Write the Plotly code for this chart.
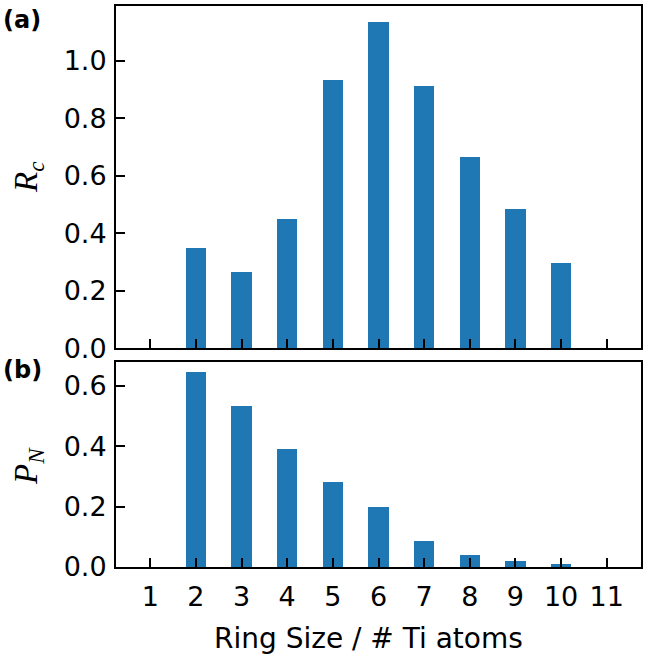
import plotly.graph_objects as go
from plotly.subplots import make_subplots

ring_sizes = [1, 2, 3, 4, 5, 6, 7, 8, 9, 10, 11]
rc_values = [0.0, 0.350, 0.266, 0.451, 0.934, 1.133, 0.912, 0.664, 0.484, 0.295, 0.0]
pn_values = [0.0, 0.645, 0.531, 0.389, 0.282, 0.197, 0.086, 0.038, 0.020, 0.009, 0.0]
rc_ticks = [0.0, 0.2, 0.4, 0.6, 0.8, 1.0]
pn_ticks = [0.0, 0.2, 0.4, 0.6]

W, H = 645, 661
L, R, T, B = 116, 4, 6, 94
ph = H - T - B
pw = W - L - R
ax_bottom = H - B

def py(y):
    return (ax_bottom - y) / ph

def px(x):
    return (x - L) / pw

fig = make_subplots(rows=2, cols=1)
color = "#1f77b4"
fig.add_trace(go.Bar(x=ring_sizes, y=rc_values, width=0.45, marker=dict(color=color, line=dict(width=0)), showlegend=False), row=1, col=1)
fig.add_trace(go.Bar(x=ring_sizes, y=pn_values, width=0.45, marker=dict(color=color, line=dict(width=0)), showlegend=False), row=2, col=1)

font_tick = dict(family="DejaVu Sans", size=27, color="black")
axis_common = dict(showline=True, linecolor="black", linewidth=2, mirror=True,
                   ticks="inside", ticklen=9, tickwidth=2, tickcolor="black",
                   showgrid=False, zeroline=False, tickfont=font_tick)

fig.update_layout(
    width=W, height=H,
    margin=dict(l=L, r=R, t=T, b=B, autoexpand=False),
    plot_bgcolor="white", paper_bgcolor="white",
    bargap=0,
    xaxis=dict(domain=[0, 1], range=[0.25, 11.75], tickvals=ring_sizes, showticklabels=False, anchor="y", **axis_common),
    yaxis=dict(domain=[py(348.3), 1.0], range=[0, 1.19], tickvals=rc_ticks, tickformat=".1f", anchor="x", ticklabelstandoff=2, **axis_common),
    xaxis2=dict(domain=[0, 1], range=[0.25, 11.75], tickvals=ring_sizes, anchor="y2", ticklabelstandoff=5, **axis_common),
    yaxis2=dict(domain=[0, py(362.3)], range=[0, 0.678], tickvals=pn_ticks, tickformat=".1f", anchor="x2", ticklabelstandoff=2, **axis_common),
)

ann = []
ann.append(dict(text="<i>R</i><sub><i>c</i></sub>", x=px(28), y=py(178), xref="paper", yref="paper",
                showarrow=False, textangle=-90, xanchor="center", yanchor="middle",
                font=dict(family="Liberation Serif", size=33, color="black")))
ann.append(dict(text="<i>P</i><sub><i>N</i></sub>", x=px(28), y=py(466), xref="paper", yref="paper",
                showarrow=False, textangle=-90, xanchor="center", yanchor="middle",
                font=dict(family="Liberation Serif", size=33, color="black")))
ann.append(dict(text="Ring Size / # Ti atoms", x=px(368), y=py(638), xref="paper", yref="paper",
                showarrow=False, xanchor="center", yanchor="middle",
                font=dict(family="DejaVu Sans", size=28, color="black")))
ann.append(dict(text="<b>(a)</b>", x=px(1), y=py(20), xref="paper", yref="paper",
                showarrow=False, xanchor="left", yanchor="middle",
                font=dict(family="DejaVu Sans", size=24, color="black")))
ann.append(dict(text="<b>(b)</b>", x=px(1), y=py(370), xref="paper", yref="paper",
                showarrow=False, xanchor="left", yanchor="middle",
                font=dict(family="DejaVu Sans", size=24, color="black")))
fig.update_layout(annotations=ann)

fig.write_html("out.html", config={"displayModeBar": False},
               post_script="document.body.style.margin='0';document.body.style.overflow='hidden';")
